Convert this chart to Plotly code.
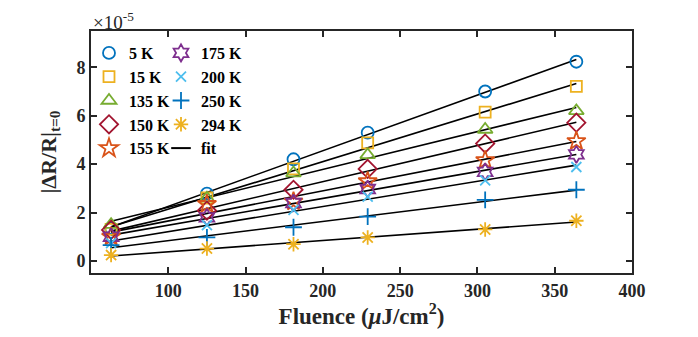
import numpy as np
import plotly.graph_objects as go

# fluence values (uJ/cm^2)
fluence = [63, 125, 181, 229, 305, 364]

# |dR/R| at t=0, in units of 1e-5
r_5K = [1.35, 2.78, 4.20, 5.30, 7.00, 8.23]
r_15K = [1.30, 2.60, 3.80, 4.88, 6.15, 7.21]
r_135K = [1.50, 2.59, 3.63, 4.38, 5.43, 6.20]
r_150K = [1.28, 2.08, 2.94, 3.80, 4.85, 5.71]
r_155K = [1.00, 2.35, 2.45, 3.29, 4.16, 4.95]
r_175K = [1.00, 1.80, 2.39, 2.97, 3.68, 4.40]
r_200K = [0.73, 1.48, 2.11, 2.66, 3.33, 3.88]
r_250K = [0.65, 0.97, 1.39, 1.83, 2.52, 2.94]
r_294K = [0.24, 0.51, 0.69, 0.97, 1.30, 1.66]

labels = ["5 K", "15 K", "135 K", "150 K", "155 K", "175 K", "200 K", "250 K", "294 K"]
series = [r_5K, r_15K, r_135K, r_150K, r_155K, r_175K, r_200K, r_250K, r_294K]
colors = ["#0072BD", "#EDB120", "#77AC30", "#A2142F", "#D95319",
          "#7E2F8E", "#4DBEEE", "#0072BD", "#EDB120"]
symbols = ["circle-open", "square-open", "triangle-up-open", "diamond-open", "star-open",
           "hexagram-open", "x-thin-open", "cross-thin-open", "asterisk-open"]
sizes = [12, 11, 13, 14, 14, 13, 10, 12, 12]

FONT = "Liberation Serif"

fig = go.Figure()

# linear fits first so markers sit on top
x = np.array(fluence, dtype=float)
for ys in series:
    k, b = np.polyfit(x, np.array(ys), 1)
    fig.add_trace(go.Scatter(
        x=[x[0], x[-1]], y=[k * x[0] + b, k * x[-1] + b], mode="lines",
        line=dict(color="black", width=1.6), showlegend=False, hoverinfo="skip",
    ))

for i, (lab, ys) in enumerate(zip(labels, series)):
    fig.add_trace(go.Scatter(
        x=fluence, y=ys, mode="markers", name=lab,
        marker=dict(symbol=symbols[i], color=colors[i], size=sizes[i],
                    line=dict(color=colors[i], width=1.8)),
        legend="legend" if i < 5 else "legend2",
        legendrank=i,
    ))

# short dash as the legend key for the fits
fig.add_trace(go.Scatter(
    x=[None], y=[None], mode="markers", name="fit",
    marker=dict(symbol="line-ew-open", size=14, color="black", line=dict(color="black", width=2)),
    legend="legend2", legendrank=100,
))

# page body adds an 8px offset; positions below are in page pixels
OFF = 8
W, H = 698 - OFF, 337 - OFF
PL, PR, PT, PB = 91, 632, 31, 273  # plot box in page pixels
L, T = PL - OFF, PT - OFF
R, B = W + OFF - PR, H + OFF - PB
pw, ph = PR - PL, PB - PT


def px_x(px):
    return (px - PL) / pw


def px_y(py):
    return (PB - py) / ph


axis_font = dict(family=FONT, size=18, color="#262626")
leg_font = dict(family=FONT, size=16, color="black", weight="bold")

fig.update_layout(
    width=W, height=H,
    margin=dict(l=L, r=R, t=T, b=B, autoexpand=False),
    paper_bgcolor="white", plot_bgcolor="white",
    font=dict(family=FONT, color="black"),
    legend=dict(x=px_x(89), y=px_y(36),
                xanchor="left", yanchor="top", bgcolor="rgba(0,0,0,0)",
                font=leg_font, tracegroupgap=0, itemwidth=30),
    legend2=dict(x=px_x(161), y=px_y(36),
                 xanchor="left", yanchor="top", bgcolor="rgba(0,0,0,0)",
                 font=leg_font, tracegroupgap=0, itemwidth=30),
)

fig.update_xaxes(
    range=[50, 400], tickvals=[100, 150, 200, 250, 300, 350, 400],
    ticks="inside", ticklen=6, tickwidth=1.5, tickcolor="#262626",
    showline=True, linecolor="#262626", linewidth=1.8, mirror="ticks",
    showgrid=False, zeroline=False, automargin=False,
    tickfont=dict(axis_font, weight="bold"),
    title=dict(text="Fluence (<i>μ</i>J/cm<sup>2</sup>)", standoff=6,
               font=dict(family=FONT, size=23, color="#262626", weight="bold")),
)
fig.update_yaxes(
    range=[-0.5, 9.5], tickvals=[0, 2, 4, 6, 8],
    ticks="inside", ticklen=6, tickwidth=1.5, tickcolor="#262626",
    showline=True, linecolor="#262626", linewidth=1.8, mirror="ticks",
    showgrid=False, zeroline=False, automargin=False,
    tickfont=dict(axis_font, weight="bold"),
    title=dict(text="|ΔR/R|<sub>t=0</sub>", standoff=14,
               font=dict(family=FONT, size=22, color="#262626", weight="bold")),
)

fig.add_annotation(
    text="×10<sup>-5</sup>", xref="paper", yref="paper", x=0, y=1,
    xanchor="left", yanchor="bottom", showarrow=False, yshift=-4,
    font=dict(family=FONT, size=19, color="#262626"),
)

fig.write_html("out.html")
